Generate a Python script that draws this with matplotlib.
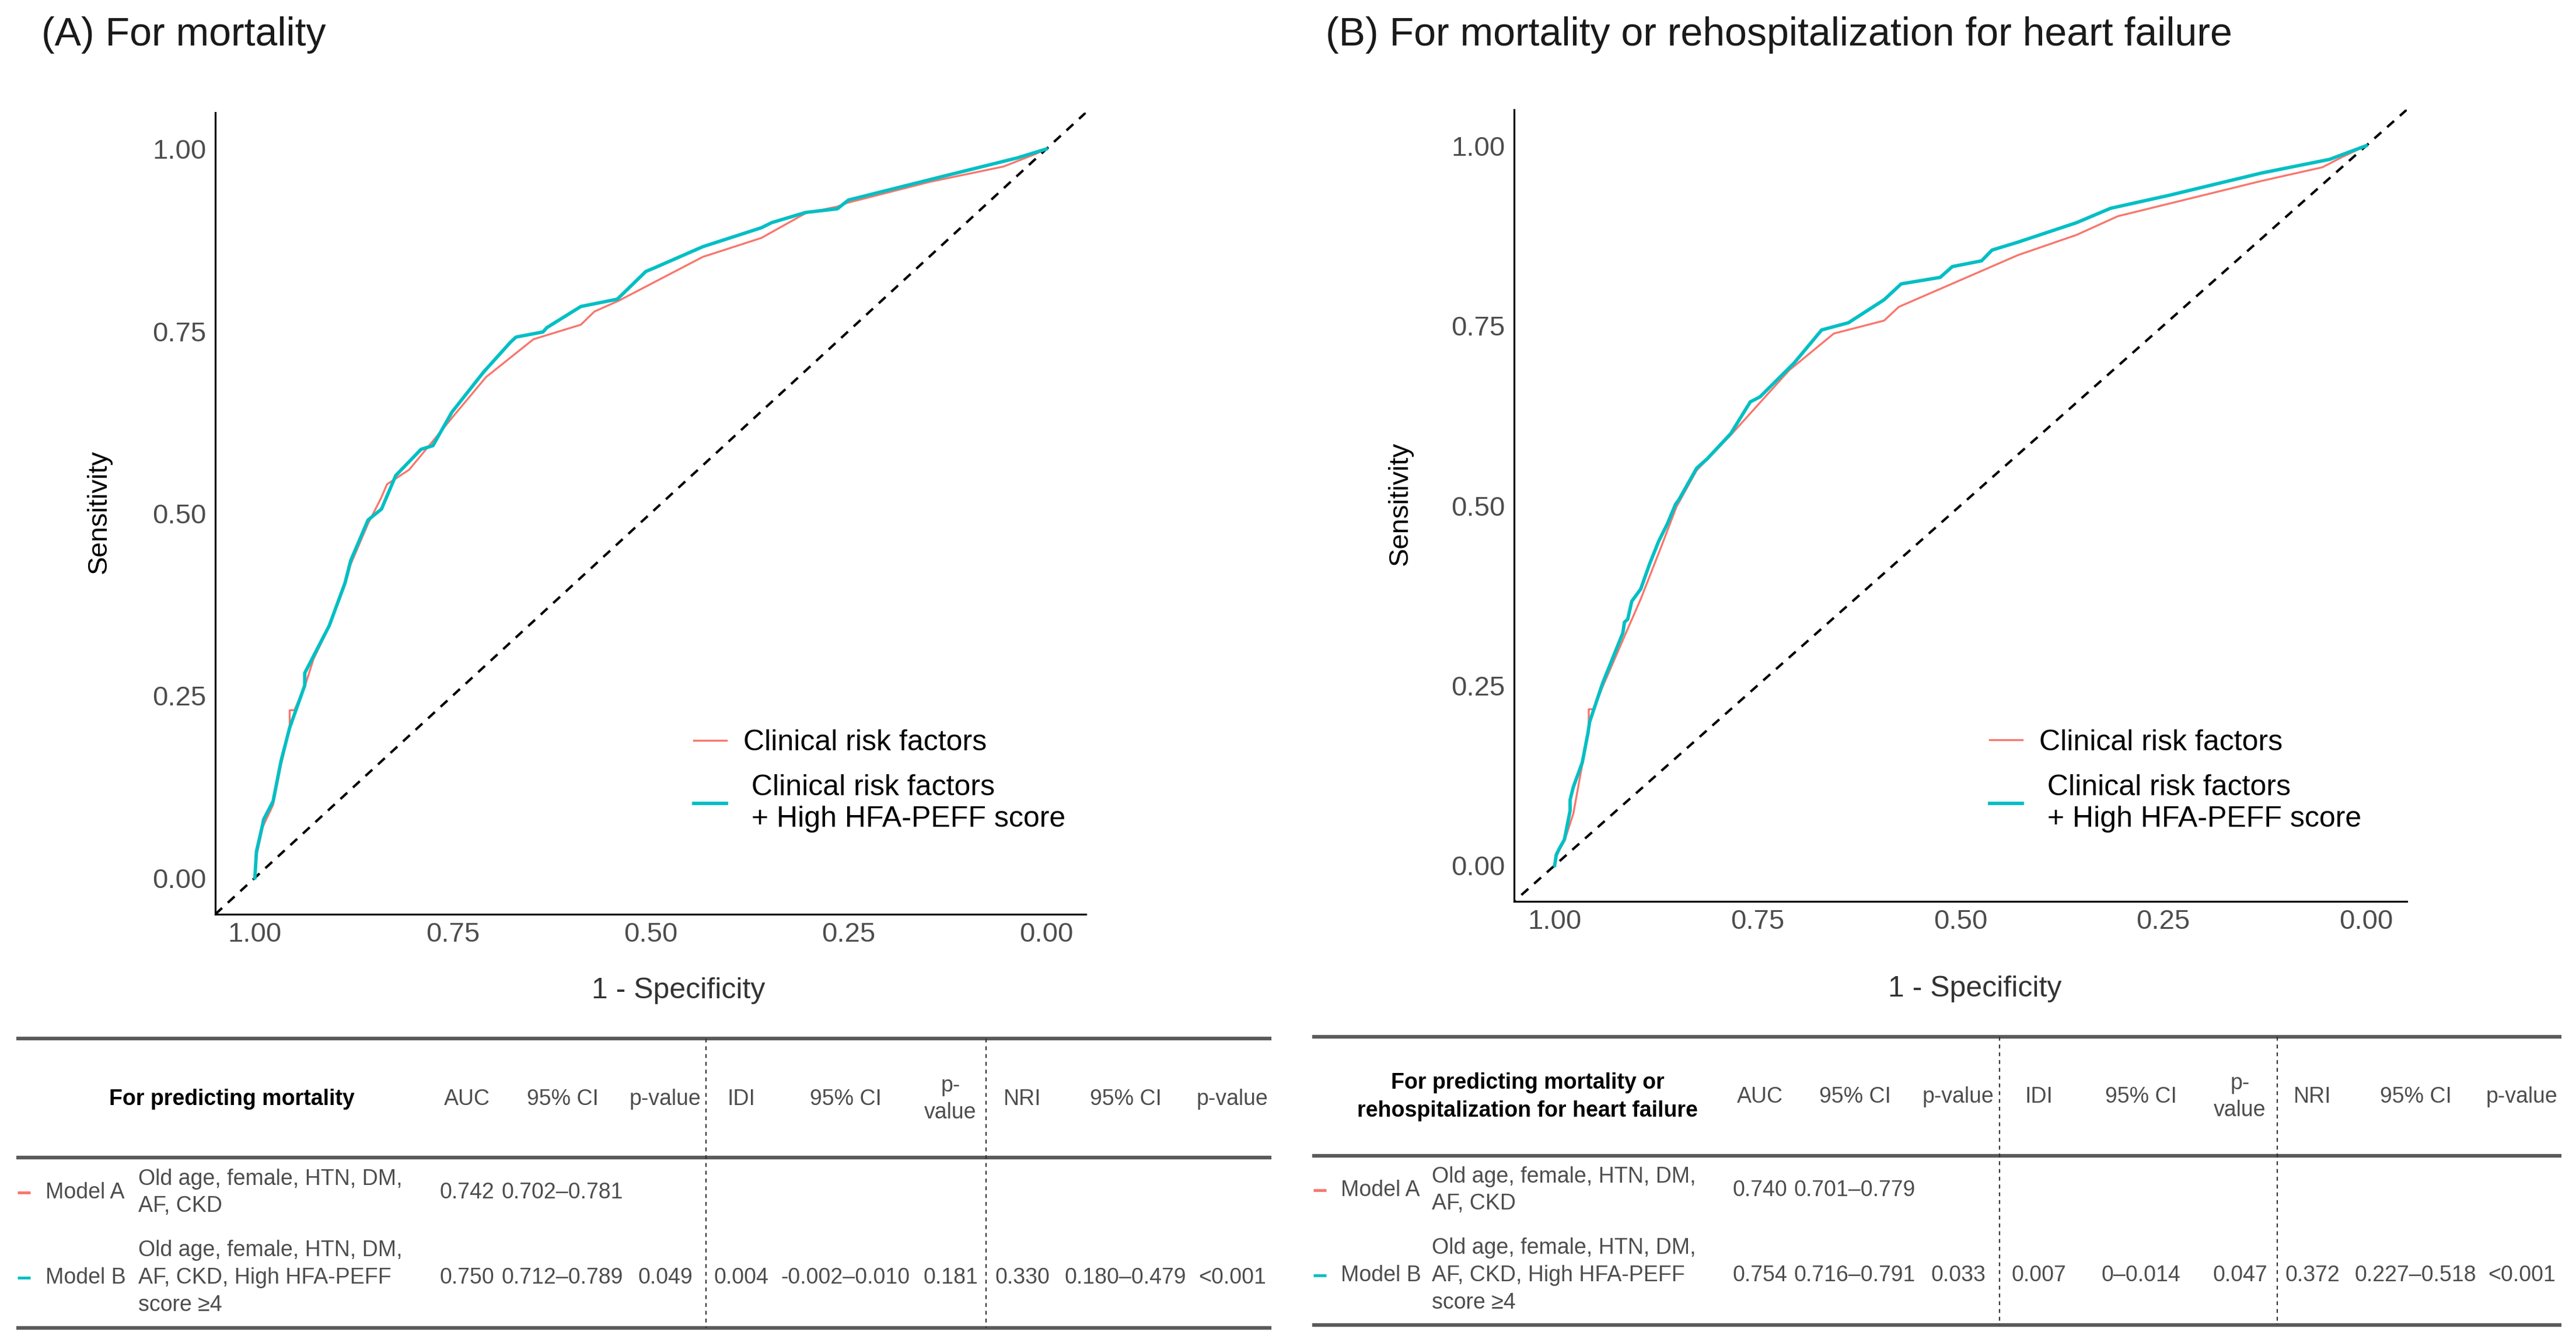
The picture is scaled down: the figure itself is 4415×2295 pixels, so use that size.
"""ROC curves for mortality / rehospitalization with the comparison tables below"""

import matplotlib
matplotlib.use("Agg")
import matplotlib.pyplot as plt

plt.rcParams["font.family"] = ["Liberation Sans", "DejaVu Sans"]

W, H = 4415, 2295
RED = "#F8766D"
CYAN = "#00BFC4"
GRAY_TXT = "#4d4d4d"

# ---- ROC points: specificity (x, reversed) and sensitivity
SPEC_A_CLIN = [1.000, 0.998, 0.990, 0.977, 0.967, 0.956, 0.956, 0.950, 0.937, 0.926,
               0.906, 0.886, 0.879, 0.857, 0.841, 0.833, 0.805, 0.773, 0.748, 0.708,
               0.648, 0.588, 0.571, 0.540, 0.434, 0.360, 0.304, 0.264, 0.252, 0.147,
               0.054, 0.014, 0.000]
SENS_A_CLIN = [0.000, 0.030, 0.070, 0.100, 0.155, 0.205, 0.230, 0.230, 0.262, 0.300,
               0.345, 0.402, 0.430, 0.486, 0.520, 0.540, 0.560, 0.602, 0.635, 0.687,
               0.739, 0.759, 0.777, 0.792, 0.852, 0.878, 0.912, 0.921, 0.926, 0.955,
               0.976, 0.993, 1.000]
SPEC_A_HFA = [1.000, 0.998, 0.990, 0.989, 0.977, 0.967, 0.956, 0.937, 0.937, 0.926,
              0.906, 0.886, 0.879, 0.857, 0.840, 0.822, 0.790, 0.775, 0.751, 0.711,
              0.677, 0.670, 0.636, 0.631, 0.588, 0.542, 0.506, 0.495, 0.434, 0.360,
              0.347, 0.304, 0.264, 0.250, 0.125, 0.036, 0.000]
SENS_A_HFA = [0.000, 0.036, 0.074, 0.080, 0.105, 0.160, 0.206, 0.264, 0.281, 0.304,
              0.346, 0.405, 0.435, 0.491, 0.506, 0.552, 0.588, 0.593, 0.639, 0.694,
              0.735, 0.742, 0.749, 0.755, 0.784, 0.794, 0.832, 0.837, 0.866, 0.892,
              0.899, 0.913, 0.918, 0.930, 0.964, 0.988, 1.000]

SPEC_B_CLIN = [1.000, 0.998, 0.994, 0.988, 0.977, 0.966, 0.958, 0.958, 0.952, 0.941,
               0.911, 0.894, 0.869, 0.850, 0.825, 0.783, 0.711, 0.656, 0.594, 0.576,
               0.429, 0.357, 0.306, 0.129, 0.054, 0.030, 0.000]
SENS_B_CLIN = [0.000, 0.012, 0.022, 0.034, 0.072, 0.140, 0.185, 0.217, 0.217, 0.248,
               0.326, 0.370, 0.442, 0.498, 0.549, 0.598, 0.688, 0.739, 0.757, 0.776,
               0.848, 0.876, 0.902, 0.951, 0.970, 0.984, 1.000]
SPEC_B_HFA = [1.000, 0.998, 0.994, 0.988, 0.981, 0.981, 0.977, 0.966, 0.959, 0.957,
              0.941, 0.916, 0.914, 0.910, 0.905, 0.894, 0.883, 0.872, 0.861, 0.851,
              0.847, 0.825, 0.812, 0.783, 0.759, 0.747, 0.705, 0.671, 0.638, 0.594,
              0.573, 0.525, 0.510, 0.474, 0.461, 0.429, 0.357, 0.315, 0.243, 0.129,
              0.045, 0.000]
SENS_B_HFA = [0.000, 0.015, 0.024, 0.036, 0.076, 0.091, 0.109, 0.143, 0.184, 0.199,
              0.253, 0.323, 0.338, 0.342, 0.367, 0.384, 0.419, 0.450, 0.475, 0.502,
              0.508, 0.552, 0.565, 0.600, 0.644, 0.651, 0.698, 0.744, 0.754, 0.786,
              0.808, 0.817, 0.832, 0.840, 0.855, 0.866, 0.893, 0.913, 0.931, 0.962,
              0.981, 1.000]

TICKS = [1.00, 0.75, 0.50, 0.25, 0.00]
TICK_LABELS = ["1.00", "0.75", "0.50", "0.25", "0.00"]
LEGEND_LABELS = ["Clinical risk factors", " Clinical risk factors\n + High HFA-PEFF score"]

# ---- table contents
TABLE_HEAD = ["AUC", "95% CI", "p-value", "IDI", "95% CI", "p-\nvalue", "NRI", "95% CI", "p-value"]
MODEL_NAMES = ["Model A", "Model B"]
MODEL_DESC = ["Old age, female, HTN, DM,\nAF, CKD",
              "Old age, female, HTN, DM,\nAF, CKD, High HFA-PEFF\nscore \u22654"]
MORT_A = ["0.742", "0.702\u20130.781", "", "", "", "", "", "", ""]
MORT_B = ["0.750", "0.712\u20130.789", "0.049", "0.004", "-0.002\u20130.010", "0.181",
          "0.330", "0.180\u20130.479", "<0.001"]
REHOSP_A = ["0.740", "0.701\u20130.779", "", "", "", "", "", "", ""]
REHOSP_B = ["0.754", "0.716\u20130.791", "0.033", "0.007", "0\u20130.014", "0.047",
            "0.372", "0.227\u20130.518", "<0.001"]


def draw_roc(ax, spec_clin, sens_clin, spec_hfa, sens_hfa, legend_anchor):
    ax.axline((1, 0), (0, 1), color="black", lw=3.0, dashes=(3.8, 3.2), zorder=1)
    ax.plot(spec_clin, sens_clin, color=RED, lw=2.4, label=LEGEND_LABELS[0], zorder=2)
    ax.plot(spec_hfa, sens_hfa, color=CYAN, lw=4.2, label=LEGEND_LABELS[1], zorder=3)
    ax.set_xlim(1.05, -0.05)
    ax.set_ylim(-0.05, 1.05)
    ax.set_xticks(TICKS)
    ax.set_xticklabels(TICK_LABELS)
    ax.set_yticks(TICKS)
    ax.set_yticklabels(TICK_LABELS)
    ax.tick_params(length=0, labelsize=34, labelcolor=GRAY_TXT)
    ax.tick_params(axis="x", pad=9)
    ax.tick_params(axis="y", pad=11)
    for s in ("top", "right"):
        ax.spines[s].set_visible(False)
    for s in ("left", "bottom"):
        ax.spines[s].set_linewidth(2.3)
        ax.spines[s].set_color("black")
    leg = ax.legend(loc="upper left", bbox_to_anchor=legend_anchor, frameon=False,
                    fontsize=36, handlelength=1.12, handletextpad=0.58,
                    labelspacing=0.62, borderpad=0, borderaxespad=0)
    for t in leg.get_texts():
        t.set_linespacing(1.22)


def draw_table(ov, x0, x1, ys, dash_x, cols, row_y, header, header_x,
               label_x, desc_x, mark_x, rows):
    y_top, y_mid, y_bot = ys
    for y in (y_top, y_mid, y_bot):
        ov.plot([x0, x1], [y, y], color="#5a5a5a", lw=4.5, solid_capstyle="butt")
    for x in dash_x:
        ov.plot([x, x], [y_top, y_bot], color="#333333", lw=1.6, dashes=(3, 3))
    y_head, y_a, y_b = row_y
    ov.text(header_x, y_head, header, ha="center", va="center", fontsize=27,
            fontweight="bold", color="black", linespacing=1.45)
    for x, h in zip(cols, TABLE_HEAD):
        ov.text(x, y_head, h, ha="center", va="center", fontsize=27,
                color=GRAY_TXT, linespacing=1.38)
    for y, name, desc, vals, col in zip((y_a, y_b), MODEL_NAMES, MODEL_DESC, rows, (RED, CYAN)):
        ov.plot([mark_x - 11, mark_x + 11], [y, y], color=col, lw=3.5, solid_capstyle="butt")
        ov.text(label_x, y, name, ha="left", va="center", fontsize=27, color=GRAY_TXT)
        ov.text(desc_x, y, desc, ha="left", va="center", fontsize=27, color=GRAY_TXT,
                linespacing=1.38)
        for x, v in zip(cols, vals):
            if v:
                ov.text(x, y, v, ha="center", va="center", fontsize=27, color=GRAY_TXT)


fig = plt.figure(figsize=(W / 100, H / 100), dpi=100)
fig.patch.set_facecolor("white")

ax_a = fig.add_axes([369 / W, 1 - 1567 / H, 1492 / W, 1374 / H])
ax_b = fig.add_axes([2595 / W, 1 - 1545 / H, 1530 / W, 1357 / H])
draw_roc(ax_a, SPEC_A_CLIN, SENS_A_CLIN, SPEC_A_HFA, SENS_A_HFA, (0.5496, 0.2307))
draw_roc(ax_b, SPEC_B_CLIN, SENS_B_CLIN, SPEC_B_HFA, SENS_B_HFA, (0.5327, 0.2174))

# overlay in pixel coordinates for titles, axis titles and tables
ov = fig.add_axes([0, 0, 1, 1])
ov.set_xlim(0, W)
ov.set_ylim(H, 0)
ov.axis("off")
ov.patch.set_alpha(0)

ov.text(71, 60, "(A) For mortality", ha="left", va="center", fontsize=49, color="#1a1a1a")
ov.text(2272, 60, "(B) For mortality or rehospitalization for heart failure",
        ha="left", va="center", fontsize=49, color="#1a1a1a")
for x, y in ((170, 877), (2400, 863)):
    ov.text(x, y, "Sensitivity", rotation=90, ha="center", va="center",
            fontsize=34, color="black")
for x, y in ((1163, 1698), (3385, 1695)):
    ov.text(x, y, "1 - Specificity", ha="center", va="center", fontsize=36, color="#333333")

draw_table(ov, 28, 2179, (1780, 1984, 2276), (1210, 1690),
           [800, 964, 1140, 1270, 1449, 1629, 1752, 1929, 2112],
           (1884, 2044, 2190), "For predicting mortality", 397,
           78, 237, 41, (MORT_A, MORT_B))
draw_table(ov, 2249, 4390, (1777, 1981, 2271), (3427, 3903),
           [3016, 3179, 3356, 3494, 3669, 3839, 3963, 4140, 4322],
           (1880, 2040, 2186),
           "For predicting mortality or\nrehospitalization for heart failure", 2618,
           2298, 2454, 2262, (REHOSP_A, REHOSP_B))

fig.savefig("out.png", dpi=100)
plt.close(fig)
